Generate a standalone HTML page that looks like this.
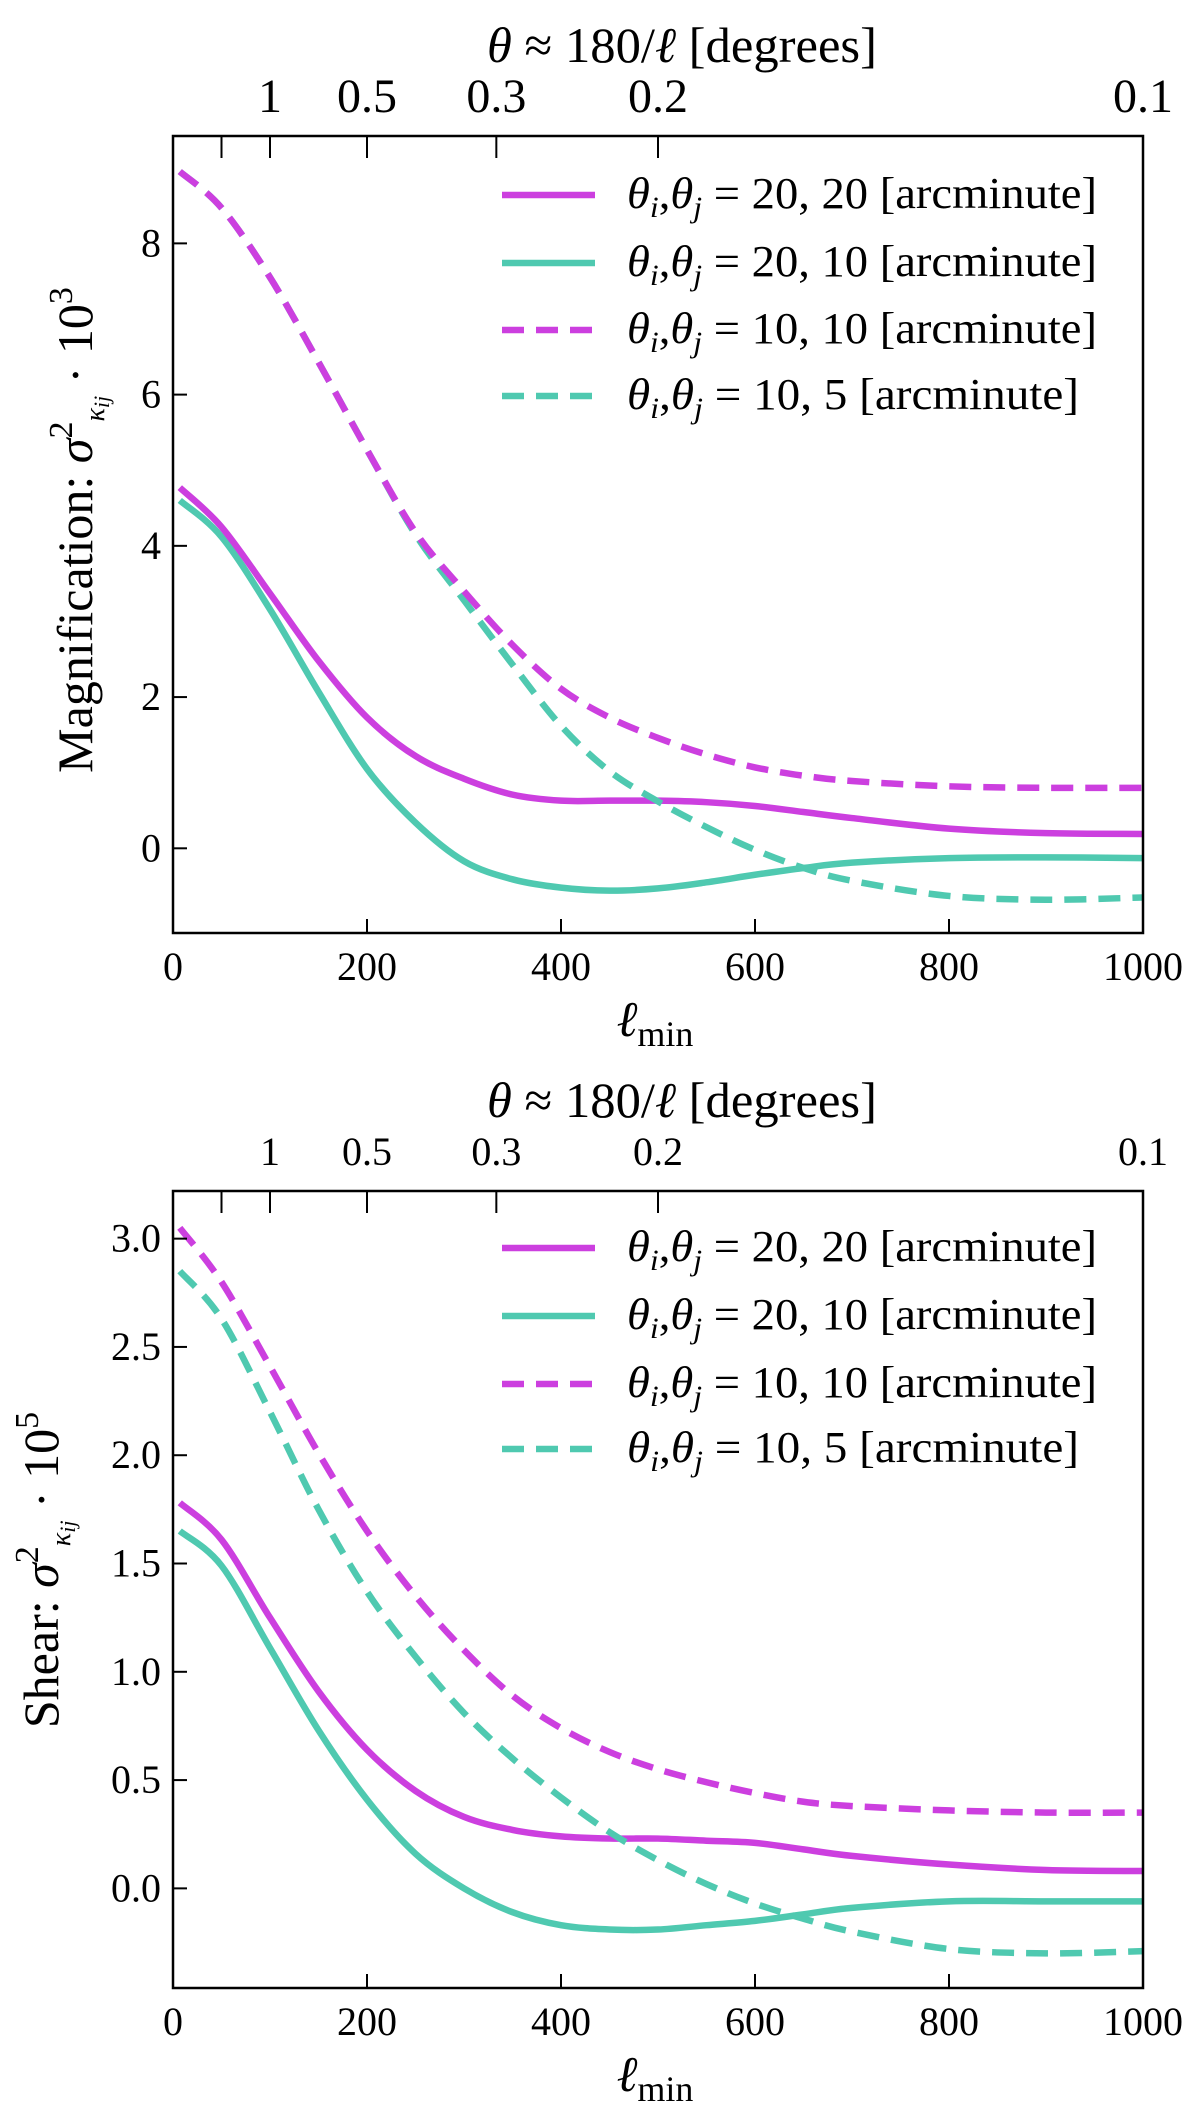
<!DOCTYPE html>
<html><head><meta charset="utf-8"><style>
body{margin:0;background:#fff}
svg{display:block}
text{font-family:"Liberation Serif","DejaVu Serif",serif;fill:#000}
</style></head><body>
<svg id="fig" width="1200" height="2116" viewBox="0 0 1200 2116"></svg>
<script>
const ells=[7,50,100,150,200,250,300,350,400,450,500,550,600,650,700,800,900,1000];
// Top panel (magnification), units 1e-3
const magS2020=[4.77,4.25,3.37,2.48,1.73,1.22,0.92,0.71,0.63,0.63,0.63,0.61,0.56,0.48,0.40,0.26,0.20,0.19];
const magS2010=[4.60,4.12,3.16,2.07,1.05,0.34,-0.17,-0.41,-0.52,-0.56,-0.53,-0.45,-0.35,-0.26,-0.19,-0.13,-0.12,-0.13];
const magD1010=[8.95,8.47,7.55,6.43,5.27,4.18,3.40,2.69,2.11,1.73,1.46,1.24,1.07,0.96,0.89,0.82,0.80,0.80];
const magD105=[8.95,8.47,7.55,6.43,5.27,4.15,3.28,2.43,1.62,1.02,0.62,0.28,-0.02,-0.26,-0.43,-0.63,-0.68,-0.65];
// Bottom panel (shear), units 1e-5
const shS2020=[1.78,1.61,1.25,0.91,0.64,0.45,0.33,0.27,0.24,0.23,0.23,0.22,0.21,0.18,0.15,0.11,0.085,0.08];
const shS2010=[1.65,1.49,1.11,0.73,0.41,0.16,0.0,-0.11,-0.17,-0.19,-0.19,-0.17,-0.15,-0.12,-0.09,-0.06,-0.06,-0.06];
const shD1010=[3.05,2.80,2.41,2.01,1.65,1.35,1.10,0.89,0.74,0.63,0.55,0.49,0.44,0.40,0.38,0.36,0.35,0.35];
const shD105=[2.85,2.63,2.20,1.75,1.37,1.07,0.81,0.60,0.42,0.26,0.13,0.02,-0.07,-0.14,-0.20,-0.28,-0.30,-0.29];
const xTicks=[0,200,400,600,800,1000];
const thetaTicks=[2,1,0.5,0.3,0.2,0.1];
const thetaLabels=["","1","0.5","0.3","0.2","0.1"];
const magYTicks=[0,2,4,6,8];
const shYTicks=[0,0.5,1.0,1.5,2.0,2.5,3.0];
const legendLabels=["20, 20","20, 10","10, 10","10, 5"];

const NS="http://www.w3.org/2000/svg";
const svg=document.getElementById('fig');
function mk(tag,attrs,parent){const e=document.createElementNS(NS,tag);for(const k in attrs)e.setAttribute(k,attrs[k]);(parent||svg).appendChild(e);return e;}
const MAG='#cc3fdf',TEAL='#4fc9b0';

function panel(p){
  const g=mk('g',{});
  
  
  const L=173,R=1143,T=p.top,B=p.bottom;
  const sx=v=>L+(v-0)/(1000-0)*(R-L);
  const sy=v=>B-(v-p.ymin)/(p.ymax-p.ymin)*(B-T);
  const cid='clip'+p.name;
  const cp=mk('clipPath',{id:cid},g);mk('rect',{x:L,y:T,width:R-L,height:B-T},cp);
  function path(xs,ys){
    const pts=xs.map((x,i)=>[sx(x),sy(ys[i])]);
    let d='M'+pts[0][0]+','+pts[0][1];
    for(let i=0;i<pts.length-1;i++){
      const p0=pts[Math.max(0,i-1)],p1=pts[i],p2=pts[i+1],p3=pts[Math.min(pts.length-1,i+2)];
      const c1=[p1[0]+(p2[0]-p0[0])/6,p1[1]+(p2[1]-p0[1])/6];
      const c2=[p2[0]-(p3[0]-p1[0])/6,p2[1]-(p3[1]-p1[1])/6];
      d+=' C'+c1[0]+','+c1[1]+' '+c2[0]+','+c2[1]+' '+p2[0]+','+p2[1];
    }
    return d;
  }
  const series=[[p.s2020,MAG,null,'line-20-20'],[p.s2010,TEAL,null,'line-20-10'],[p.d1010,MAG,'22 12','line-10-10'],[p.d105,TEAL,'22 12','line-10-5']];
  [1,0,3,2].forEach(i=>{const s=series[i];
    const a={d:path(ells,s[0]),fill:'none',stroke:s[1],'stroke-width':6.5,'clip-path':'url(#'+cid+')'};
    if(s[2])a['stroke-dasharray']=s[2];
    const e=mk('path',a,g);
    
    
  });
  const fr=mk('rect',{x:L,y:T,width:R-L,height:B-T,fill:'none',stroke:'#000','stroke-width':2.5},g);
  
  
  xTicks.forEach(v=>{
    mk('line',{x1:sx(v),x2:sx(v),y1:B,y2:B-14,stroke:'#000','stroke-width':2},g);
    const t=mk('text',{x:sx(v),y:B+47,'text-anchor':'middle','font-size':40},g);t.textContent=v;
    
    
  });
  p.yTicks.forEach(v=>{
    mk('line',{x1:L,x2:L+14,y1:sy(v),y2:sy(v),stroke:'#000','stroke-width':2},g);
    const t=mk('text',{x:L-12,y:sy(v)+13,'text-anchor':'end','font-size':40},g);t.textContent=p.yfmt(v);
    
    
  });
  thetaTicks.forEach((th,i)=>{
    const x=sx(100/th);
    mk('line',{x1:x,x2:x,y1:T,y2:T+22,stroke:'#000','stroke-width':2},g);
    const t=mk('text',{x:x,y:T-p.thOff,'text-anchor':'middle','font-size':p.thSize},g);t.textContent=thetaLabels[i];
    
    
  });
  const tt=mk('text',{x:682,y:T-74,'text-anchor':'middle','font-size':50,textLength:390,lengthAdjust:'spacingAndGlyphs'},g);
  tt.innerHTML='<tspan font-style="italic">θ</tspan> ≈ 180/<tspan font-style="italic">ℓ</tspan> [degrees]';
  
  
  const xl=mk('text',{x:655,y:B+103,'text-anchor':'middle','font-size':50},g);
  xl.innerHTML='<tspan font-style="italic">ℓ</tspan><tspan font-size="36" dy="10">min</tspan>';
  
  
  const yl=mk('text',{x:0,y:0,'text-anchor':'middle','font-size':50,transform:'translate('+p.ylx+','+p.ylc+') rotate(-90)'},g);
  yl.innerHTML=p.ylabel+'  <tspan font-style="italic">σ</tspan><tspan font-size="34" dy="-20">2</tspan><tspan font-size="28" dy="32" font-style="italic">κ</tspan><tspan font-size="22" dy="5" font-style="italic">ij</tspan><tspan dy="-17"> · 10</tspan><tspan font-size="34" dy="-20">'+p.exp+'</tspan>';
  
  
  const lg=mk('g',{},g);
  
  
  p.legY.forEach((y,i)=>{
    const s=series[i];
    const a={x1:502,x2:595,y1:y,y2:y,stroke:s[1],'stroke-width':6.5};
    if(s[2])a['stroke-dasharray']='22 12';
    mk('line',a,lg);
    const t=mk('text',{x:627,y:y+13,'font-size':44,textLength:(i==3?452:470),lengthAdjust:'spacingAndGlyphs'},lg);
    t.innerHTML='<tspan font-style="italic">θ</tspan><tspan font-size="30" dy="9" font-style="italic">i</tspan><tspan dy="-9">,</tspan><tspan font-style="italic">θ</tspan><tspan font-size="30" dy="9" font-style="italic">j</tspan><tspan dy="-9"> = '+legendLabels[i]+' [arcminute]</tspan>';
    
    
  });
}
panel({name:'magnification-panel',top:136,bottom:933,ymin:-1.12,ymax:9.42,yTicks:magYTicks,yfmt:v=>String(v),
  s2020:magS2020,s2010:magS2010,d1010:magD1010,d105:magD105,ylabel:'Magnification:',exp:'3',ylx:92,ylc:530,thSize:48,thOff:24,legY:[195,263,330,396]});
panel({name:'shear-panel',top:1191,bottom:1988,ymin:-0.46,ymax:3.22,yTicks:shYTicks,yfmt:v=>v.toFixed(1),
  s2020:shS2020,s2010:shS2010,d1010:shD1010,d105:shD105,ylabel:'Shear:',exp:'5',ylx:58,ylc:1570,thSize:40,thOff:26,legY:[1248,1316,1384,1449]});
</script>
</body></html>
